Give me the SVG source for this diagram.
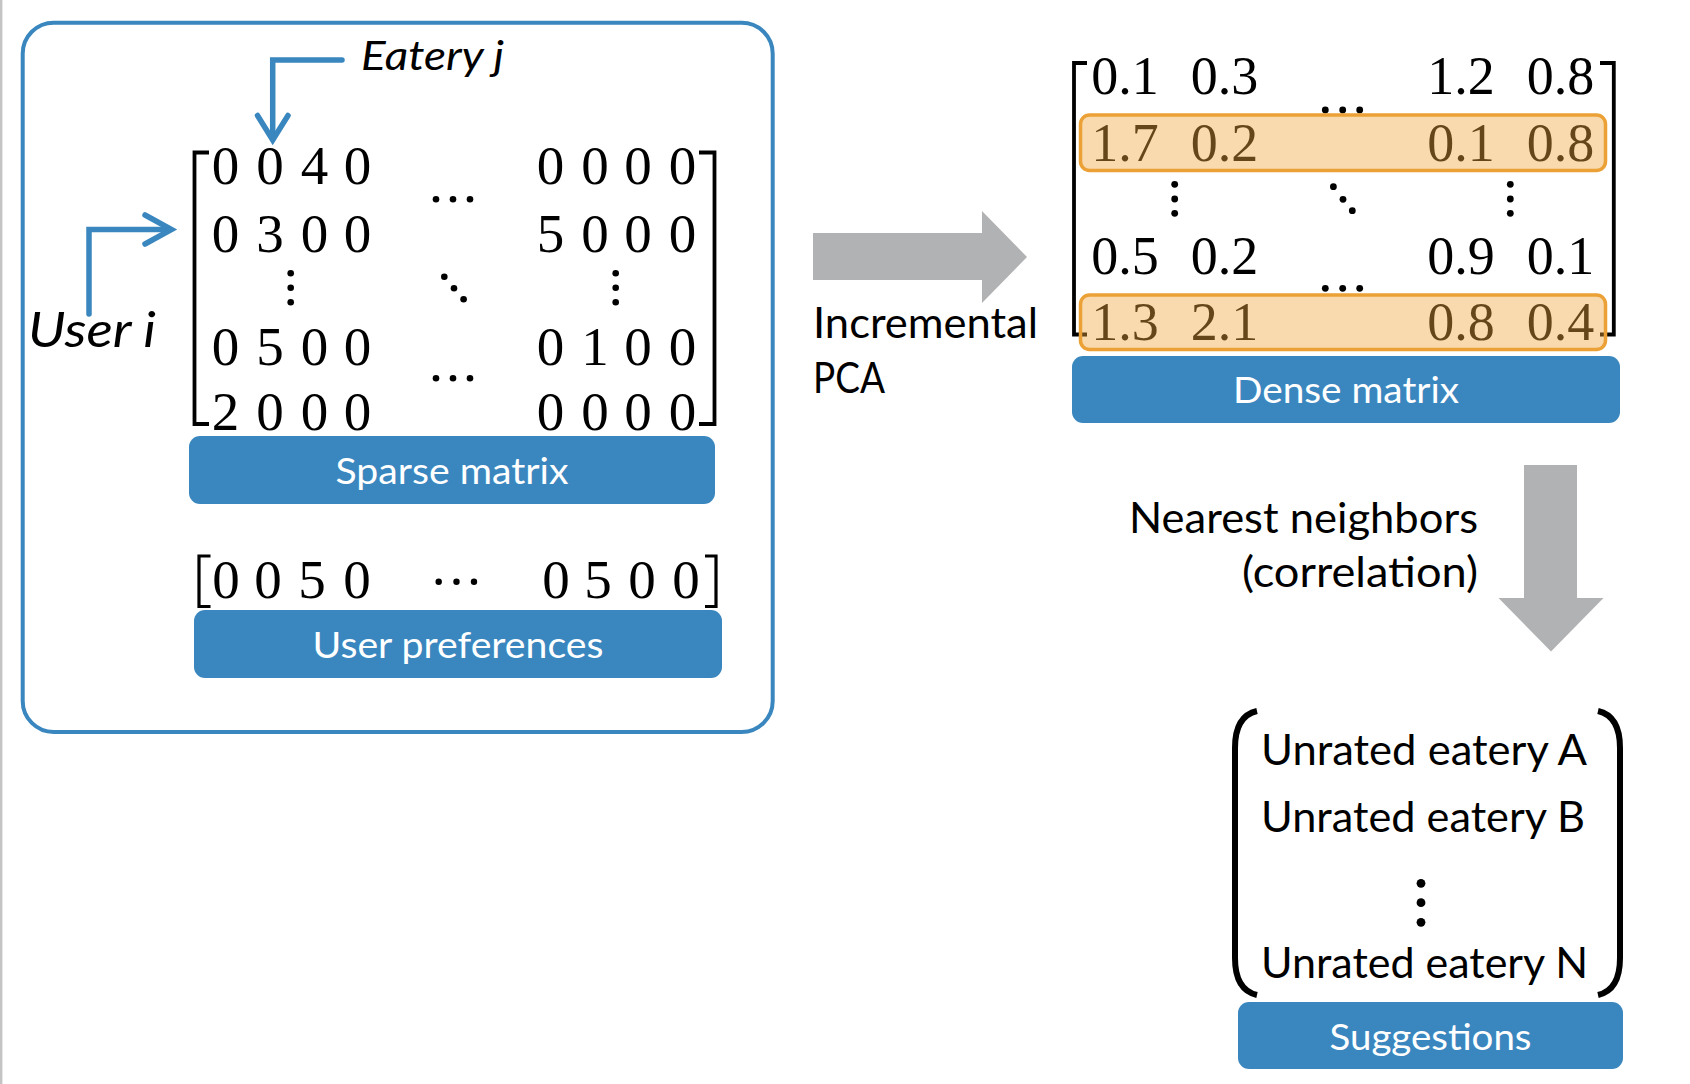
<svg xmlns="http://www.w3.org/2000/svg" width="1690" height="1084" viewBox="0 0 1690 1084">
<style>
.bg{fill:#ffffff}
.edge{fill:#C4C4C4}
.panel{fill:none;stroke:#3A87BF;stroke-width:4}
.box{fill:#3A87BF}
.lbl{font-family:Lato,"Open Sans","Liberation Sans",sans-serif;font-size:37px;fill:#ffffff;text-anchor:middle}
.body{font-family:Lato,"Open Sans","Liberation Sans",sans-serif;font-size:42px;fill:#000000}
.it{font-family:Lato,"Open Sans","Liberation Sans",sans-serif;font-style:italic;fill:#000000}
.num{font-family:"Liberation Serif","Times New Roman",serif;font-size:55px;fill:#000000;text-anchor:middle}
.dnum{font-family:"Liberation Serif","Times New Roman",serif;font-size:54px;fill:#000000;text-anchor:middle}
.brk{fill:none;stroke:#000000;stroke-width:3.8;stroke-linejoin:miter}
.paren{fill:none;stroke:#000000;stroke-width:6;stroke-linecap:butt}
.dot{fill:#000000}
.hl{fill:#EFA73F;fill-opacity:0.42;stroke:#EBA135;stroke-width:3.5}
.barrow{fill:none;stroke:#3A87BF;stroke-width:5.5;stroke-linecap:round;stroke-linejoin:miter}
.garrow{fill:#B1B2B4}
</style>
<rect class="bg" x="0" y="0" width="1690" height="1084"/>
<rect class="edge" x="0" y="0" width="2.4" height="1084"/>

<g id="input-panel">
  <rect class="panel" x="22.7" y="22.7" width="750" height="709.3" rx="31" ry="31"/>
</g>

<g id="sparse-matrix">
  <path class="brk" d="M209,152.5 H194.5 V424 H209"/>
  <path class="brk" d="M699,152.5 H714.5 V424 H699"/>
  <g>
    <text class="num" x="225.4" y="184">0</text><text class="num" x="270" y="184">0</text><text class="num" x="314.6" y="184">4</text><text class="num" x="357.5" y="184">0</text>
    <text class="num" x="550.4" y="184">0</text><text class="num" x="595" y="184">0</text><text class="num" x="637.9" y="184">0</text><text class="num" x="682.5" y="184">0</text>
    <text class="num" x="225.4" y="251.5">0</text><text class="num" x="270" y="251.5">3</text><text class="num" x="314.6" y="251.5">0</text><text class="num" x="357.5" y="251.5">0</text>
    <text class="num" x="550.4" y="251.5">5</text><text class="num" x="595" y="251.5">0</text><text class="num" x="637.9" y="251.5">0</text><text class="num" x="682.5" y="251.5">0</text>
    <text class="num" x="225.4" y="365">0</text><text class="num" x="270" y="365">5</text><text class="num" x="314.6" y="365">0</text><text class="num" x="357.5" y="365">0</text>
    <text class="num" x="550.4" y="365">0</text><text class="num" x="595" y="365">1</text><text class="num" x="637.9" y="365">0</text><text class="num" x="682.5" y="365">0</text>
    <text class="num" x="225.4" y="430">2</text><text class="num" x="270" y="430">0</text><text class="num" x="314.6" y="430">0</text><text class="num" x="357.5" y="430">0</text>
    <text class="num" x="550.4" y="430">0</text><text class="num" x="595" y="430">0</text><text class="num" x="637.9" y="430">0</text><text class="num" x="682.5" y="430">0</text>
  </g>
  <g>
    <circle class="dot" cx="436" cy="199.3" r="3.3"/><circle class="dot" cx="453" cy="199.3" r="3.3"/><circle class="dot" cx="470" cy="199.3" r="3.3"/>
    <circle class="dot" cx="436" cy="378.3" r="3.3"/><circle class="dot" cx="453" cy="378.3" r="3.3"/><circle class="dot" cx="470" cy="378.3" r="3.3"/>
    <circle class="dot" cx="290.7" cy="273.3" r="3.3"/><circle class="dot" cx="290.7" cy="287.7" r="3.3"/><circle class="dot" cx="290.7" cy="302.3" r="3.3"/>
    <circle class="dot" cx="615.7" cy="273.3" r="3.3"/><circle class="dot" cx="615.7" cy="287.7" r="3.3"/><circle class="dot" cx="615.7" cy="302.3" r="3.3"/>
    <circle class="dot" cx="444.3" cy="276.7" r="3.3"/><circle class="dot" cx="454" cy="288.3" r="3.3"/><circle class="dot" cx="463.6" cy="299.3" r="3.3"/>
  </g>
</g>

<g id="sparse-label">
  <rect class="box" x="189" y="436" width="526" height="68" rx="11" ry="11"/>
  <text class="lbl" x="452" y="484" textLength="233" lengthAdjust="spacingAndGlyphs">Sparse matrix</text>
</g>

<g id="eatery-label">
  <text class="it" x="361" y="70" font-size="41" textLength="143" lengthAdjust="spacingAndGlyphs">Eatery j</text>
</g>

<g id="user-label">
  <text class="it" x="28" y="347" font-size="48" textLength="128" lengthAdjust="spacingAndGlyphs">User i</text>
</g>

<g id="user-preferences">
  <path class="brk" d="M210.5,556 H199 V606.5 H210.5" style="stroke-width:3.2"/>
  <path class="brk" d="M705,556 H716 V606.5 H705" style="stroke-width:3.2"/>
  <text class="num" x="226" y="598">0</text><text class="num" x="268" y="598">0</text><text class="num" x="312" y="598">5</text><text class="num" x="357" y="598">0</text>
  <text class="num" x="556" y="598">0</text><text class="num" x="598" y="598">5</text><text class="num" x="642" y="598">0</text><text class="num" x="686" y="598">0</text>
  <circle class="dot" cx="438.7" cy="581.7" r="3.2"/><circle class="dot" cx="456.5" cy="581.7" r="3.2"/><circle class="dot" cx="474" cy="581.7" r="3.2"/>
</g>

<g id="user-preferences-label">
  <rect class="box" x="194" y="610" width="528" height="68" rx="11" ry="11"/>
  <text class="lbl" x="458" y="658" textLength="291" lengthAdjust="spacingAndGlyphs">User preferences</text>
</g>

<g id="pca-label">
  <text class="body" x="813" y="338" textLength="225" lengthAdjust="spacingAndGlyphs">Incremental</text>
  <text class="body" x="813" y="393" textLength="72" lengthAdjust="spacingAndGlyphs">PCA</text>
</g>

<g id="dense-matrix">
  <path class="brk" d="M1087,63 H1074 V334.5 H1087"/>
  <path class="brk" d="M1600,63 H1613.8 V334.5 H1600"/>
  <text class="dnum" x="1125" y="94">0.1</text><text class="dnum" x="1224.5" y="94">0.3</text><text class="dnum" x="1461" y="94">1.2</text><text class="dnum" x="1560.5" y="94">0.8</text>
  <text class="dnum" x="1125" y="160.5">1.7</text><text class="dnum" x="1224.5" y="160.5">0.2</text><text class="dnum" x="1461" y="160.5">0.1</text><text class="dnum" x="1560.5" y="160.5">0.8</text>
  <text class="dnum" x="1125" y="274">0.5</text><text class="dnum" x="1224.5" y="274">0.2</text><text class="dnum" x="1461" y="274">0.9</text><text class="dnum" x="1560.5" y="274">0.1</text>
  <text class="dnum" x="1125" y="340">1.3</text><text class="dnum" x="1224.5" y="340">2.1</text><text class="dnum" x="1461" y="340">0.8</text><text class="dnum" x="1560.5" y="340">0.4</text>
  <circle class="dot" cx="1325.3" cy="110" r="3.4"/><circle class="dot" cx="1342.7" cy="110" r="3.4"/><circle class="dot" cx="1359.7" cy="110" r="3.4"/>
  <circle class="dot" cx="1325.3" cy="288.3" r="3.4"/><circle class="dot" cx="1342.7" cy="288.3" r="3.4"/><circle class="dot" cx="1359.7" cy="288.3" r="3.4"/>
  <circle class="dot" cx="1174.7" cy="184.3" r="3.4"/><circle class="dot" cx="1174.7" cy="199" r="3.4"/><circle class="dot" cx="1174.7" cy="213.3" r="3.4"/>
  <circle class="dot" cx="1510.3" cy="184.3" r="3.4"/><circle class="dot" cx="1510.3" cy="199" r="3.4"/><circle class="dot" cx="1510.3" cy="213.3" r="3.4"/>
  <circle class="dot" cx="1333.4" cy="186.7" r="3.4"/><circle class="dot" cx="1343" cy="199.3" r="3.4"/><circle class="dot" cx="1352.3" cy="210.7" r="3.4"/>
  <rect class="hl" x="1080.5" y="115" width="525" height="55.5" rx="9" ry="9"/>
  <rect class="hl" x="1080.5" y="295" width="525" height="54.5" rx="9" ry="9"/>
</g>

<g id="dense-label">
  <rect class="box" x="1072" y="356" width="548" height="67" rx="11" ry="11"/>
  <text class="lbl" x="1346" y="403" textLength="226" lengthAdjust="spacingAndGlyphs">Dense matrix</text>
</g>

<g id="nn-label">
  <text class="body" x="1478" y="533" text-anchor="end" textLength="349" lengthAdjust="spacingAndGlyphs">Nearest neighbors</text>
  <text class="body" x="1478" y="587" text-anchor="end" textLength="236" lengthAdjust="spacingAndGlyphs">(correlation)</text>
</g>

<g id="suggestions">
  <path class="paren" d="M1257,711 Q1235,716 1235,748 V958 Q1235,990 1257,995"/>
  <path class="paren" d="M1598,711 Q1620,716 1620,748 V958 Q1620,990 1598,995"/>
  <text class="body" x="1261" y="765" textLength="326" lengthAdjust="spacingAndGlyphs">Unrated eatery A</text>
  <text class="body" x="1261" y="832" textLength="324" lengthAdjust="spacingAndGlyphs">Unrated eatery B</text>
  <circle class="dot" cx="1421" cy="883.3" r="4.4"/><circle class="dot" cx="1421" cy="902.7" r="4.4"/><circle class="dot" cx="1421" cy="922.3" r="4.4"/>
  <text class="body" x="1261" y="978" textLength="327" lengthAdjust="spacingAndGlyphs">Unrated eatery N</text>
</g>

<g id="suggestions-label">
  <rect class="box" x="1238" y="1002" width="385" height="67" rx="11" ry="11"/>
  <text class="lbl" x="1430.5" y="1050" textLength="202" lengthAdjust="spacingAndGlyphs">Suggestions</text>
</g>

<g id="connectors">
  <path class="barrow" d="M342,60 H272.7 V139"/>
  <path class="barrow" d="M257.5,115.5 L272.7,140 L288,115.5"/>
  <path class="barrow" d="M89,314 V229.5 H170"/>
  <path class="barrow" d="M145,215 L171.5,229.5 L145,244"/>
  <polygon class="garrow" points="813,233 982,233 982,211 1027,257 982,303 982,280 813,280"/>
  <polygon class="garrow" points="1524,465 1577,465 1577,598 1603.5,598 1551,651.5 1498.5,598 1524,598"/>
</g>
</svg>
